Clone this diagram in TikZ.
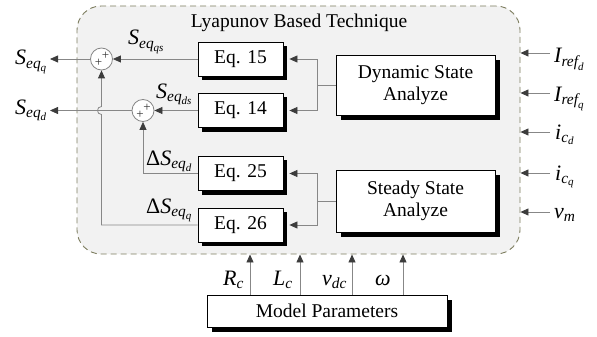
\documentclass[tikz,border=0pt]{standalone}
\usepackage{fontspec}
\usepackage{amsmath}
\setmainfont{Liberation Serif}
\usetikzlibrary{arrows.meta,calc}
\definecolor{linec}{RGB}{135,135,135}
\definecolor{tipc}{RGB}{60,60,60}
\definecolor{dashc}{RGB}{125,125,95}
\definecolor{bgc}{RGB}{242,242,242}
\definecolor{shc}{RGB}{0,0,0}
\newcommand\mi[1]{\textit{#1}}
\begin{document}
\begin{tikzpicture}[x=1pt,y=-1pt,
  ln/.style={draw=linec, line width=0.8pt},
  arr/.style={ln, -{Triangle[length=8pt,width=7pt,color=tipc]}},
  boxbase/.style={draw=black, line width=0.8pt, fill=white, inner sep=0pt, align=center, font=\rmfamily\fontsize{19.5}{22}\selectfont},
  eqbox/.style={boxbase, minimum width=85pt, minimum height=34pt},
  bigbox/.style={boxbase, minimum width=159pt, minimum height=60pt},
  sumc/.style={circle, draw=linec, line width=0.8pt, fill=white, minimum size=22pt, inner sep=0pt},
  lbl/.style={font=\rmfamily\fontsize{22}{26}\selectfont, inner sep=0pt},
  pl/.style={font=\rmfamily\fontsize{13}{13}\selectfont, inner sep=0pt, text=black!80}
]
\useasboundingbox (0,0) rectangle (597,337);
% outer dashed region
\node (lbt) [draw=dashc, dash pattern=on 6pt off 4pt, line width=0.9pt, fill=bgc, rounded corners=24pt, minimum width=443pt, minimum height=248pt, inner sep=0pt] at (298.5,130) {};
\node (title) [font=\rmfamily\fontsize{19.5}{22}\selectfont, anchor=base, inner sep=0pt] at (299,28) {Lyapunov Based Technique};

% blocks
\node[eqbox] (e15) at (240.5,59) {Eq. 15};
\node[eqbox] (e14) at (240.5,110.5) {Eq. 14};
\node[eqbox] (e25) at (240.5,173.5) {Eq. 25};
\node[eqbox] (e26) at (240.5,225) {Eq. 26};
\node[bigbox] (dyn) at (415.5,85) {Dynamic State\\Analyze};
\node[bigbox, minimum height=62pt] (ss) at (415.5,201) {Steady State\\Analyze};
\node[boxbase, minimum width=240pt, minimum height=32pt] (mp) at (327,311) {Model Parameters};
% drop shadows: strips on the right and bottom of each block
\foreach \b/\d in {e15/4,e14/4,e25/4,e26/4,dyn/5,ss/5,mp/5}{
  \fill[shc] ([xshift=0.4pt,yshift=-\d pt]\b.north east) rectangle ([xshift=\d pt,yshift=-\d pt]\b.south east);
  \fill[shc] ([xshift=\d pt,yshift=-0.4pt]\b.south west) rectangle ([xshift=\d pt,yshift=-\d pt]\b.south east);
}

% summation junctions
\node[sumc] (s1) at (101.5,59) {};
\node[sumc] (s2) at (143,110.5) {};
\node[pl] (s1a) at ($(s1)+(4,-3)$) {+};
\node[pl] (s1b) at ($(s1)+(-3,4)$) {+};
\node[pl] (s2a) at ($(s2)+(4,-3)$) {+};
\node[pl] (s2b) at ($(s2)+(-3,4)$) {+};

% analyzers to equations
\coordinate (bd) at (317,85);
\coordinate (bs) at (317,201);
\draw[ln] (dyn.west) -- (bd);
\draw[arr] (bd) |- ([xshift=6pt]e15.east);
\draw[arr] (bd) |- ([xshift=6pt]e14.east);
\draw[ln] (ss.west) -- (bs);
\draw[arr] (bs) |- ([xshift=6pt]e25.east);
\draw[arr] (bs) |- ([xshift=6pt]e26.east);

% equations to sums / outputs
\coordinate (oq) at (50,59);
\coordinate (od) at (50,110.5);
\coordinate (c26) at (101.5,225);
\coordinate (h1) at (101.5,114.5);
\coordinate (h2) at (101.5,106.5);
\draw[arr] (e15.west) -- (s1.east);
\draw[arr] (s1.west) -- (oq);
\draw[arr] (e14.west) -- (s2.east);
\draw[arr] (s2.west) -- (od);
\draw[arr] (e25.west) -| (s2.south);
\draw[arr] (e26.west) -- (c26) -- (h1) .. controls (96.2,114.5) and (96.2,106.5) .. (h2) -- (s1.south);

% inputs on the right
\coordinate (in1) at (550,53);
\coordinate (in2) at (550,93);
\coordinate (in3) at (550,132);
\coordinate (in4) at (550,173);
\coordinate (in5) at (550,212);
\foreach \k in {1,...,5}{\draw[arr] (in\k) -- (lbt.east |- in\k);}
\node[lbl, anchor=base west] (lIrd) at (554,63) {$\mi{I}_{\mi{ref}_{\mi{d}}}$};
\node[lbl, anchor=base west] (lIrq) at (554,101) {$\mi{I}_{\mi{ref}_{\mi{q}}}$};
\node[lbl, anchor=base west] (licd) at (555,139) {$\mi{i}_{\mi{c}_{\mi{d}}}$};
\node[lbl, anchor=base west] (licq) at (555,180) {$\mi{i}_{\mi{c}_{\mi{q}}}$};
\node[lbl, anchor=base west] (lvm) at (554,218) {$\mi{v}_{\mi{m}}$};

% model parameter arrows
\draw[arr] (mp.north -| 250,0) -- (lbt.south -| 250,0);
\draw[arr] (mp.north -| 300,0) -- (lbt.south -| 300,0);
\draw[arr] (mp.north -| 352,0) -- (lbt.south -| 352,0);
\draw[arr] (mp.north -| 403,0) -- (lbt.south -| 403,0);
\node[lbl, anchor=base west] (lRc) at (223,285) {$\mi{R}_{\mi{c}}$};
\node[lbl, anchor=base west] (lLc) at (273,285) {$\mi{L}_{\mi{c}}$};
\node[lbl, anchor=base west] (lvdc) at (322,285) {$\mi{v}_{\mi{dc}}$};
\node[lbl, anchor=base west] (lw) at (375,285) {$\mi{ω}$};

% signal labels
\node[lbl, anchor=base west] (lSq) at (15,65) {$\mi{S}_{\mi{eq}_{\mi{q}}}$};
\node[lbl, anchor=base west] (lSd) at (15,114) {$\mi{S}_{\mi{eq}_{\mi{d}}}$};
\node[lbl, anchor=base west] (lSqs) at (128,45) {$\mi{S}_{\mi{eq}_{\mi{qs}}}$};
\node[lbl, anchor=base west] (lSds) at (156,98) {$\mi{S}_{\mi{eq}_{\mi{ds}}}$};
\node[lbl, anchor=base west] (ldSd) at (146,165) {$\textup{Δ}\mi{S}_{\mi{eq}_{\mi{d}}}$};
\node[lbl, anchor=base west] (ldSq) at (146,213) {$\textup{Δ}\mi{S}_{\mi{eq}_{\mi{q}}}$};
\end{tikzpicture}
\end{document}
